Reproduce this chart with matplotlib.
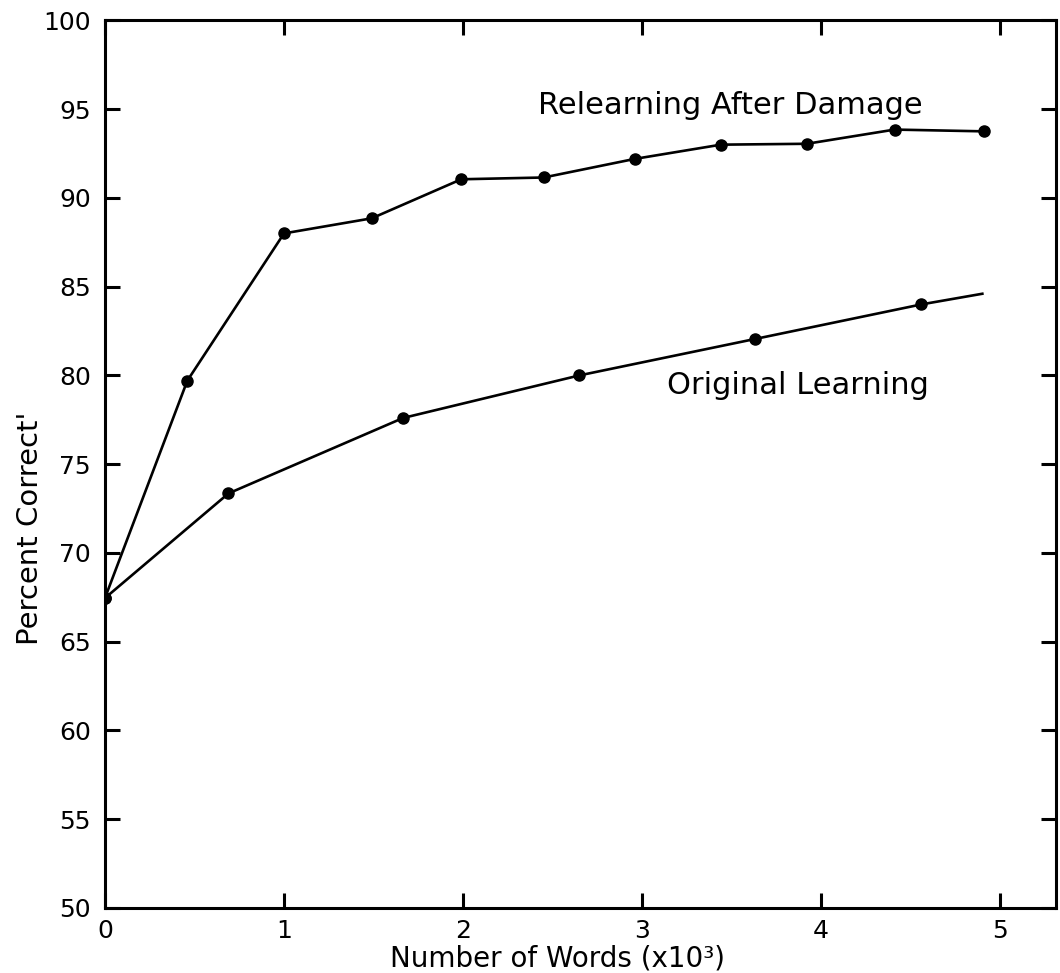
import matplotlib
matplotlib.use("Agg")
import matplotlib.pyplot as plt

# data
relearn_x = [0.0, 0.46, 1.0, 1.49, 1.99, 2.45, 2.96, 3.44, 3.92, 4.41, 4.91]
relearn_y = [67.45, 79.7, 88.0, 88.85, 91.05, 91.15, 92.2, 93.0, 93.05, 93.85, 93.75]

orig_x = [0.0, 0.69, 1.665, 2.65, 3.63, 4.56]
orig_y = [67.45, 73.35, 77.6, 80.0, 82.05, 84.0]
# original learning curve runs on past the last measured point
orig_end_x = 4.90
orig_end_y = 84.6

x_ticks = [0, 1, 2, 3, 4, 5]
y_ticks = [50, 55, 60, 65, 70, 75, 80, 85, 90, 95, 100]

plt.rcParams['font.family'] = ['DejaVu Sans']

fig = plt.figure(figsize=(10.6, 9.73), dpi=100)
ax = fig.add_axes([0.099, 0.067, 0.897, 0.912])

ax.plot(orig_x + [orig_end_x], orig_y + [orig_end_y], color='black', lw=1.9)
ax.plot(orig_x, orig_y, 'o', color='black', ms=8)
ax.plot(relearn_x, relearn_y, '-o', color='black', lw=1.9, ms=8)

ax.set_xlim(0, 5.31)
ax.set_ylim(50, 100)
ax.set_xticks(x_ticks)
ax.set_yticks(y_ticks)
ax.tick_params(direction='in', length=11, width=2.2, labelsize=18,
               top=True, right=True)
ax.tick_params(axis='x', pad=8)
ax.tick_params(axis='y', pad=10)
for s in ax.spines.values():
    s.set_linewidth(2.2)

ax.text(3.49, 95.2, 'Relearning After Damage', fontsize=22,
        ha='center', va='center')
ax.text(3.87, 79.45, 'Original Learning', fontsize=22,
        ha='center', va='center')

ax.set_xlabel('Number of Words (x10³)', fontsize=20, va='baseline')
ax.xaxis.set_label_coords(0.476, -0.066)
ax.set_ylabel("Percent Correct'", fontsize=21, va='center')
ax.yaxis.set_label_coords(-0.079, 0.428)

fig.savefig('out.png', dpi=100, facecolor='white')
